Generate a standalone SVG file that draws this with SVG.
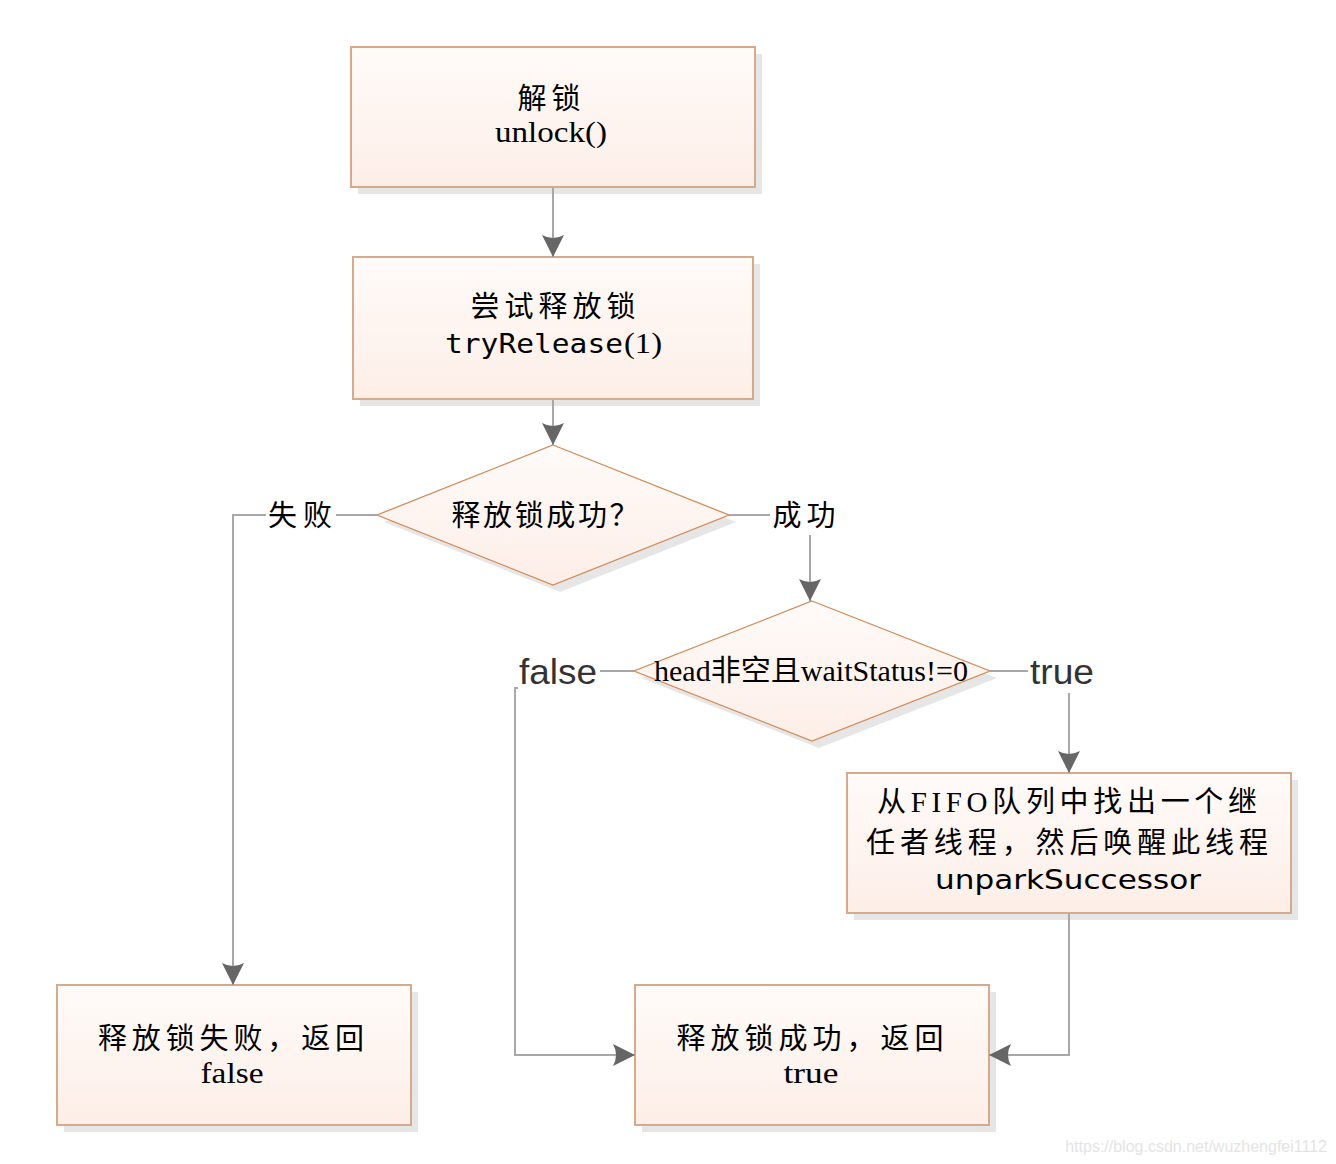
<svg xmlns="http://www.w3.org/2000/svg" width="1336" height="1164" viewBox="0 0 1336 1164">
<defs>
<linearGradient id="g" x1="0" y1="0" x2="0" y2="1">
<stop offset="0" stop-color="#fffbf9"/>
<stop offset="1" stop-color="#fdeee7"/>
</linearGradient>
<marker id="ah" viewBox="0 0 22 22" refX="22" refY="11" markerWidth="22" markerHeight="22" markerUnits="userSpaceOnUse" orient="auto">
<path d="M0,0 L22,11 L0,22 Q6,11 0,0 Z" fill="#666"/>
</marker>
<style>
.box{fill:url(#g);stroke:#d6aa8c;stroke-width:2}
.dia{fill:url(#g);stroke:#d38b58;stroke-width:1.3}
.sh{fill:#e6e6e6}
.t{font-family:"Liberation Serif","Noto Sans CJK SC",serif;font-size:29px;fill:#000;text-anchor:middle}
.c{font-family:"Noto Sans CJK SC","Liberation Serif",sans-serif;font-size:29px;fill:#000;text-anchor:middle}
.m{font-family:"DejaVu Sans Mono",monospace;font-size:27px;fill:#000}
.s{font-family:"DejaVu Sans","Noto Sans",sans-serif;font-size:27px;fill:#000;text-anchor:middle}
.lb{font-family:"Liberation Sans",Arial,sans-serif;font-size:35px;fill:#333;text-anchor:middle}
.cn{fill:none;stroke:#a8a8a8;stroke-width:2}
</style>
</defs>
<rect width="1336" height="1164" fill="#fff"/>
<g id="n1">
<rect class="sh" x="358" y="54" width="404" height="140"/>
<rect class="box" x="351" y="47" width="404" height="140"/>
<text class="c" x="549" y="109" textLength="63" lengthAdjust="spacing">解锁</text>
<text class="t" x="551" y="142" textLength="112" lengthAdjust="spacingAndGlyphs">unlock()</text>
</g>
<g id="n2">
<rect class="sh" x="360" y="264" width="400" height="142"/>
<rect class="box" x="353" y="257" width="400" height="142"/>
<text class="c" x="553" y="317" textLength="165" lengthAdjust="spacing">尝试释放锁</text>
<text class="m" x="445" y="353" textLength="178" lengthAdjust="spacingAndGlyphs">tryRelease</text>
<text class="t" x="643" y="353" textLength="38" lengthAdjust="spacingAndGlyphs">(1)</text>
</g>
<g id="n3">
<polygon class="sh" points="560,452 736,522 560,592 384,522"/>
<polygon class="dia" points="553,445 729,515 553,585 377,515"/>
<text class="c" x="545" y="526" textLength="187" lengthAdjust="spacing">释放锁成功？</text>
</g>
<g id="n4">
<polygon class="sh" points="819,608 997,678 819,748 641,678"/>
<polygon class="dia" points="812,601 990,671 812,741 634,671"/>
<text class="t" x="811" y="681" font-size="27" textLength="314" lengthAdjust="spacingAndGlyphs">head非空且waitStatus!=0</text>
</g>
<g id="n5">
<rect class="sh" x="854" y="780" width="444" height="140"/>
<rect class="box" x="847" y="773" width="444" height="140"/>
<text class="c" x="1067" y="812" font-size="26" textLength="380" lengthAdjust="spacing">从<tspan font-family="Liberation Serif, serif">FIFO</tspan>队列中找出一个继</text>
<text class="c" x="1067" y="853" font-size="26" textLength="402" lengthAdjust="spacing">任者线程，然后唤醒此线程</text>
<text class="s" x="1068" y="889" textLength="266" lengthAdjust="spacingAndGlyphs">unparkSuccessor</text>
</g>
<g id="n6">
<rect class="sh" x="64" y="992" width="354" height="140"/>
<rect class="box" x="57" y="985" width="354" height="140"/>
<text class="c" x="231" y="1049" font-size="28" textLength="266" lengthAdjust="spacing">释放锁失败，返回</text>
<text class="t" x="232" y="1083" font-size="28" textLength="63" lengthAdjust="spacingAndGlyphs">false</text>
</g>
<g id="n7">
<rect class="sh" x="642" y="992" width="354" height="140"/>
<rect class="box" x="635" y="985" width="354" height="140"/>
<text class="c" x="810" y="1049" font-size="28" textLength="267" lengthAdjust="spacing">释放锁成功，返回</text>
<text class="t" x="811" y="1083" font-size="28" textLength="55" lengthAdjust="spacingAndGlyphs">true</text>
</g>
<g id="connectors">
<path class="cn" d="M553,188 V257" marker-end="url(#ah)"/>
<path class="cn" d="M553,400 V445" marker-end="url(#ah)"/>
<path class="cn" d="M377,515 H336 M266,515 H233 V985" marker-end="url(#ah)"/>
<path class="cn" d="M729,515 H770 M810,535 V601" marker-end="url(#ah)"/>
<path class="cn" d="M634,671 H600 M518,688 H515 V1055 H635" marker-end="url(#ah)"/>
<path class="cn" d="M990,671 H1028 M1069,693 V773" marker-end="url(#ah)"/>
<path class="cn" d="M1069,914 V1055 H989" marker-end="url(#ah)"/>
</g>
<g id="labels">
<text class="c" x="300" y="526" textLength="64" lengthAdjust="spacing">失败</text>
<text class="c" x="804" y="526" textLength="63" lengthAdjust="spacing">成功</text>
<text class="lb" x="558" y="684" textLength="78" lengthAdjust="spacingAndGlyphs">false</text>
<text class="lb" x="1062" y="684" textLength="64" lengthAdjust="spacingAndGlyphs">true</text>
</g>
<text x="1327" y="1152" font-family="Liberation Sans,Arial,sans-serif" font-size="16" fill="#e4e4e4" text-anchor="end">https://blog.csdn.net/wuzhengfei1112</text>
</svg>
